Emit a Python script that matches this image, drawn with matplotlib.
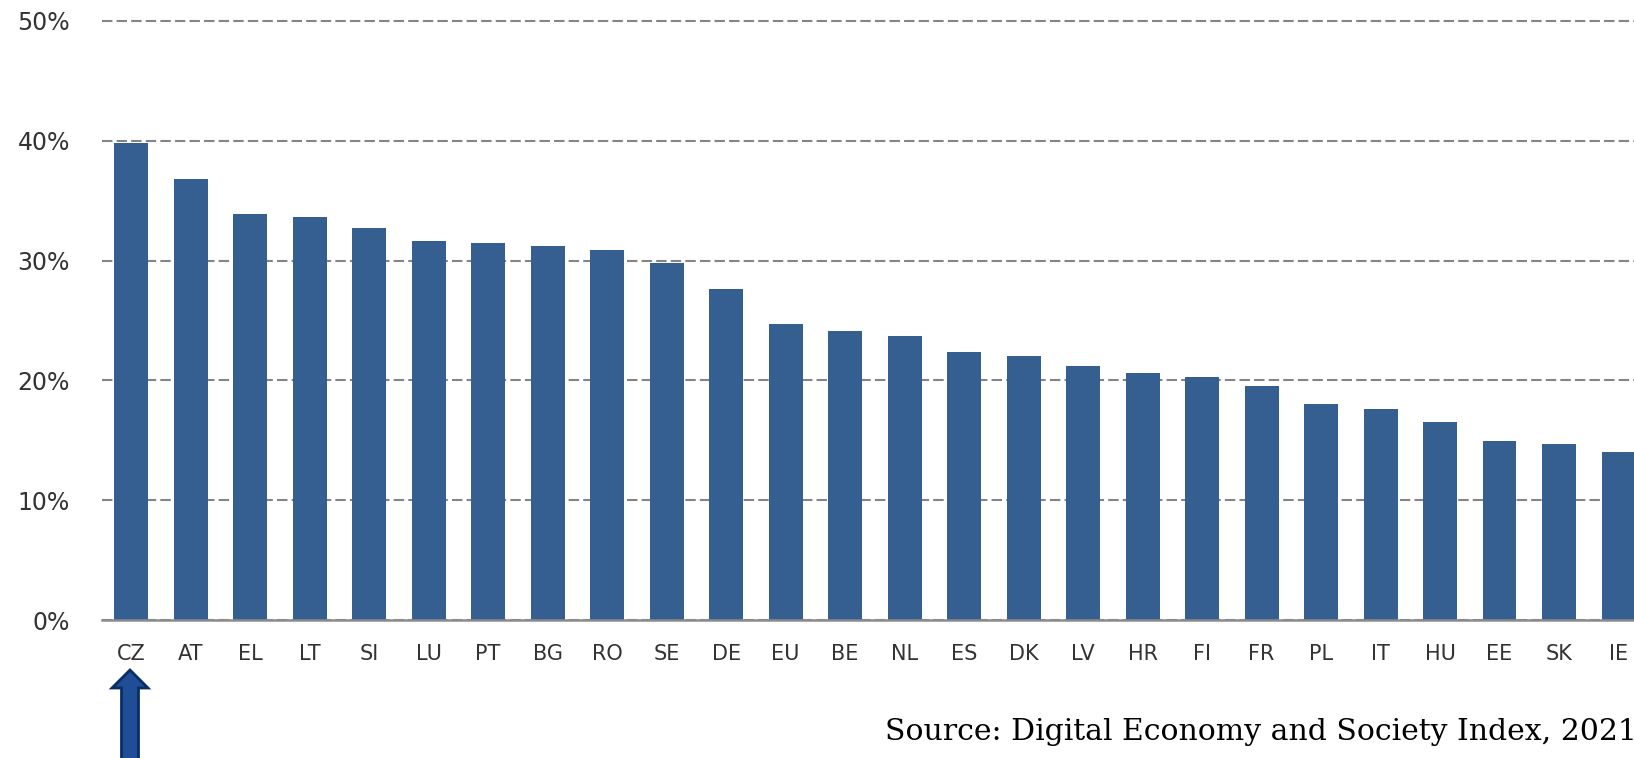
import matplotlib
matplotlib.use("Agg")
import matplotlib.pyplot as plt
from matplotlib.patches import FancyArrow
from matplotlib.transforms import IdentityTransform
from matplotlib.ticker import FuncFormatter

countries = ["CZ", "AT", "EL", "LT", "SI", "LU", "PT", "BG", "RO", "SE", "DE", "EU", "BE",
             "NL", "ES", "DK", "LV", "HR", "FI", "FR", "PL", "IT", "HU", "EE", "SK", "IE"]
values = [39.8, 36.8, 33.9, 33.65, 32.7, 31.6, 31.5, 31.2, 30.9, 29.8, 27.6, 24.7, 24.1,
          23.7, 22.4, 22.0, 21.2, 20.6, 20.3, 19.5, 18.0, 17.6, 16.5, 14.95, 14.7, 14.05]
yticks = [0, 10, 20, 30, 40, 50]
source_text = "Source: Digital Economy and Society Index, 2021"

W, H = 1634, 758
fig = plt.figure(figsize=(W / 100, H / 100), dpi=100)
# 0% at y=620 px from top, 50% at y=21 px from top; add a little headroom
px_per_unit = (620 - 21) / 50.0
top_extra = 1.0
ax = fig.add_axes([102 / W, 138 / H, 1 - 102 / W, (737 - 138 + top_extra * px_per_unit) / H])

x = list(range(len(countries)))
ax.bar(x, values, width=0.57, color="#365f91", zorder=3)

ax.set_ylim(0, 50 + top_extra)
ax.set_xlim(-0.49, 25.26)
ax.set_yticks(yticks)
ax.yaxis.set_major_formatter(FuncFormatter(lambda v, p: f"{v:.0f}%"))
ax.set_xticks(x)
ax.set_xticklabels(countries)

ax.grid(axis="y", color="#858585", linewidth=1.5, linestyle=(0, (5, 2)), zorder=0)
ax.set_axisbelow(True)
for s in ["top", "right", "left"]:
    ax.spines[s].set_visible(False)
ax.spines["bottom"].set_color("#8c8c8c")
ax.spines["bottom"].set_linewidth(1.8)
ax.spines["bottom"].set_zorder(4)

ax.tick_params(axis="y", length=0, pad=23, labelsize=17, labelcolor="#333333")
ax.tick_params(axis="x", length=0, pad=17, labelsize=15, labelcolor="#333333")

fig.text(885 / W, 18 / H, source_text, family="DejaVu Serif", fontsize=21.5,
         color="black", ha="left", va="baseline")

arrow = FancyArrow(130, -5, 0, 93, width=17, head_width=36, head_length=18,
                   length_includes_head=True, facecolor="#1f4e96", edgecolor="#0a2d66",
                   linewidth=2, transform=IdentityTransform())
fig.add_artist(arrow)

fig.savefig("out.png", dpi=100)
